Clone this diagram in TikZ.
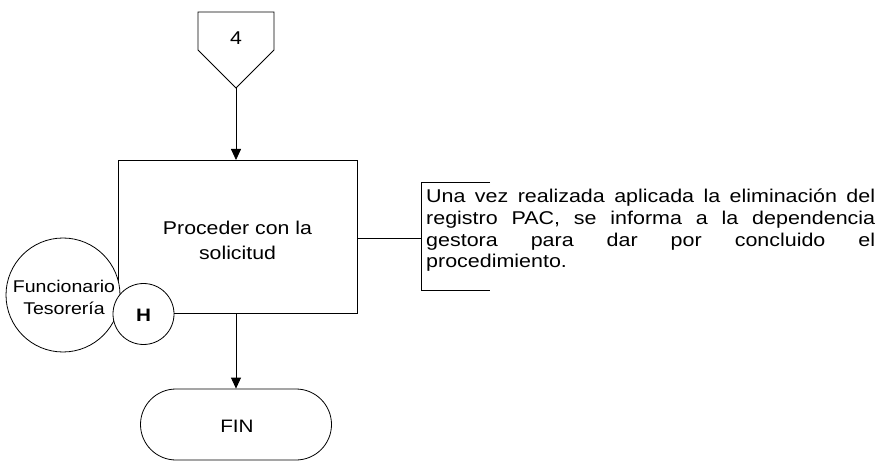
\documentclass[tikz,border=0pt]{standalone}
\usepackage{fontspec}
\setmainfont{Liberation Sans}
\newfontfamily\arialw[FakeStretch=1.15]{Liberation Sans}
\newfontfamily\arialn[FakeStretch=1.16]{Liberation Sans}
\newcommand\jline[1]{\makebox[449pt][s]{#1}}
\usetikzlibrary{arrows.meta}
\begin{document}
\begin{tikzpicture}[x=1pt,y=-1pt,
  line/.style={draw=black,line width=0.8pt},
  arr/.style={line,-{Triangle[length=11pt,width=10pt]}},
  txt/.style={font=\arialw\fontsize{18.5}{25}\selectfont,align=center,inner sep=0pt}]
\useasboundingbox (0,0) rectangle (878,462);
% off-page connector
\draw[line] (198,12) -- (274,12) -- (274,50) -- (236,88) -- (198,50) -- cycle;
\node[txt] (c4) at (236,38) {4};
\coordinate (c4tip) at (236,88);
% process box
\node[line,minimum width=239pt,minimum height=153pt,inner sep=0pt,anchor=north west] (box) at (118,160) {};
\node[txt] (boxt) at (237.5,240) {Proceder con la\\solicitud};
\draw[arr] (c4tip) -- (box.north -| c4tip);
% responsible circles
\node[line,circle,fill=white,minimum size=114pt,inner sep=0pt] (resp) at (63,295) {};
\node[txt,font=\arialw\fontsize{17}{22}\selectfont] (respt) at (64,297) {Funcionario\\Tesorería};
\node[line,circle,fill=white,minimum size=61pt,inner sep=0pt] (h) at (143.5,314) {};
\node[txt,font=\arialw\bfseries\fontsize{18}{20}\selectfont] (ht) at (143.5,315) {H};
% terminal
\node[line,fill=white,rounded corners=35.5pt,minimum width=191pt,minimum height=71pt,inner sep=0pt] (fintb) at (236,424.5) {};
\node[txt,font=\arialw\fontsize{18}{20}\selectfont] (fin) at (237,426) {FIN};
\draw[arr] (box.south -| c4tip) -- (fintb.north);
% annotation
\coordinate (br) at (421.5,238);
\draw[line] (box.east |- br) -- (br);
\draw[line] (490,182) -- (421.5,182) -- (421.5,290) -- (490,290);
\node[anchor=north west,inner sep=0pt,align=left,
  font=\arialn\fontsize{18.5}{21.7}\selectfont] (note) at (426,189)
  {\jline{Una vez realizada aplicada la eliminación del}\\
   \jline{registro PAC, se informa a la dependencia}\\
   \jline{gestora para dar por concluido el}\\
   procedimiento.};
\end{tikzpicture}
\end{document}
